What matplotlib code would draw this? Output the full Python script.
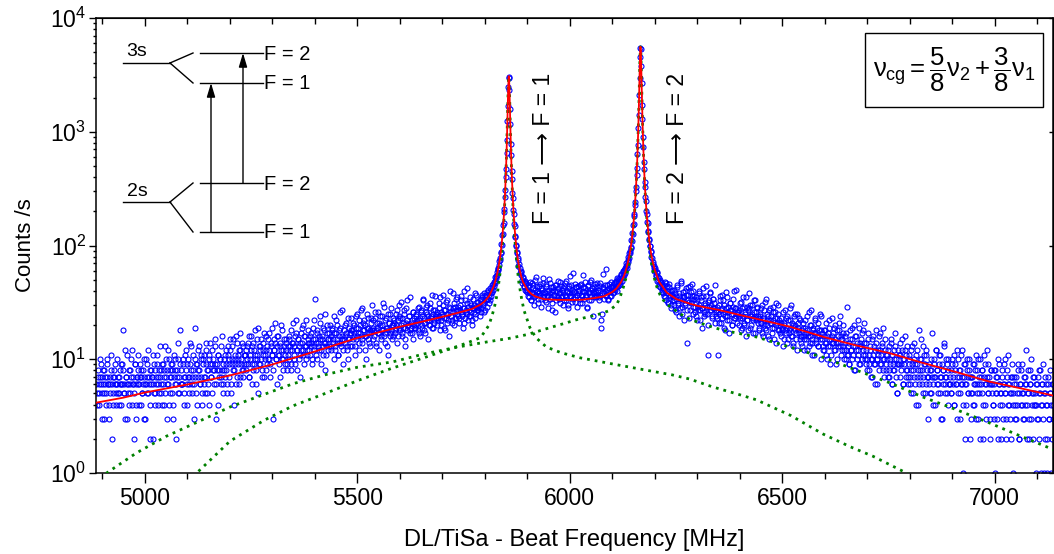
import numpy as np
import matplotlib
matplotlib.use('Agg')
import matplotlib.pyplot as plt
from matplotlib.lines import Line2D
from matplotlib.patches import Rectangle, FancyArrowPatch
from matplotlib.ticker import MultipleLocator, LogLocator, NullFormatter, NullLocator

plt.rcParams['font.family'] = ['Liberation Sans', 'DejaVu Sans']
plt.rcParams['mathtext.fontset'] = 'custom'
plt.rcParams['mathtext.rm'] = 'Liberation Sans'
plt.rcParams['mathtext.it'] = 'Liberation Sans'
plt.rcParams['mathtext.bf'] = 'Liberation Sans:bold'

# measured counts, read off the plot
# wings: two interleaved sweeps (even / odd MHz), peaks in 1 MHz steps
left_start = 4886
counts_left = [
    6, 4, 7, 5, 10, 6, 3, 7, 8, 5, 6, 4, 9, 7, 6, 3, 5, 11, 6, 7, 4, 8, 6, 5, 10,
    5, 7, 4, 8, 6, 9, 18, 5, 6, 3, 7, 11, 6, 4, 8, 5, 7, 12, 6, 2, 9, 6, 4, 7, 8,
    6, 9, 4, 7, 5, 8, 3, 6, 10, 7, 5, 12, 6, 4, 8, 7, 2, 6, 9, 5, 7, 11, 4, 6, 8,
    7, 5, 9, 6, 4, 8, 13, 7, 3, 6, 10, 8, 5, 7, 9, 4, 11, 6, 8, 2, 7, 10, 5, 18, 6,
    8, 6, 10, 5, 7, 12, 4, 9, 7, 6, 14, 8, 5, 7, 11, 6, 19, 9, 4, 8, 7, 13, 6, 10, 5,
    9, 6, 11, 7, 14, 5, 8, 10, 4, 9, 7, 12, 8, 6, 15, 9, 3, 8, 11, 7, 10, 6, 13, 8, 5,
    10, 7, 12, 8, 5, 11, 9, 15, 6, 10, 13, 8, 4, 9, 16, 7, 11, 10, 6, 12, 9, 14, 8, 7, 11,
    11, 8, 13, 9, 16, 7, 10, 12, 6, 14, 9, 18, 11, 8, 10, 5, 13, 12, 9, 15, 7, 11, 17, 10, 8,
    12, 9, 15, 10, 7, 13, 11, 19, 8, 12, 14, 10, 6, 16, 11, 9, 13, 20, 10, 12, 8, 15, 11, 14, 9,
    13, 10, 16, 12, 8, 14, 21, 11, 13, 9, 17, 12, 15, 10, 7, 14, 12, 19, 11, 16, 13, 10, 22, 12, 14,
    14, 11, 17, 13, 9, 15, 12, 34, 14, 18, 10, 13, 16, 24, 12, 15, 11, 19, 14, 8, 13, 20, 15, 12, 17,
    15, 12, 19, 14, 10, 17, 13, 22, 15, 11, 18, 14, 26, 13, 16, 9, 15, 20, 14, 17, 12, 23, 15, 13, 18,
    17, 13, 21, 16, 11, 19, 15, 25, 17, 12, 20, 16, 28, 14, 18, 22, 16, 10, 19, 15, 23, 17, 13, 21, 18,
    15, 22, 18, 26, 13, 19, 17, 21, 12, 24, 16, 20, 18, 29, 14, 17, 23, 19, 11, 21, 16, 25, 18, 15, 20,
    21, 17, 19, 25, 14, 22, 30, 18, 20, 16, 23, 19, 27, 13, 21, 18, 33, 20, 24, 17, 19, 22, 15, 26, 20,
    19, 24, 21, 28, 17, 22, 16, 26, 20, 34, 23, 18, 21, 29, 25, 15, 22, 20, 31, 24, 19, 27, 21, 36, 23,
    25, 20, 23, 31, 18, 26, 22, 24, 37, 19, 27, 23, 33, 21, 25, 16, 28, 24, 22, 38, 26, 20, 29, 23, 35,
    24, 29, 21, 27, 33, 25, 19, 28, 40, 23, 26, 31, 22, 27, 35, 24, 30, 20, 28, 26, 38, 23, 29, 32, 27,
    30, 24, 34, 28, 37, 31, 26, 36, 33, 29, 39, 34, 31, 40, 36, 43, 39, 46, 44, 49, 52, 55, 61, 63, 73,
]
left_b_start = 4887
counts_left_b = [
    5, 8, 6, 4, 7, 9, 5, 6, 3, 8, 7, 5, 10, 6, 4, 7, 6, 8, 2, 5, 7, 9, 6, 4, 6,
    7, 5, 6, 9, 4, 6, 8, 5, 12, 7, 3, 6, 5, 8, 6, 10, 4, 7, 6, 5, 9, 3, 7, 6, 11,
    4, 7, 8, 5, 6, 10, 7, 3, 6, 9, 5, 7, 8, 2, 6, 7, 11, 5, 4, 8, 6, 9, 7, 5, 13,
    8, 6, 4, 9, 7, 5, 10, 8, 6, 12, 4, 7, 9, 5, 8, 3, 7, 10, 6, 8, 14, 5, 7, 9, 6,
    6, 9, 7, 4, 11, 8, 6, 10, 5, 7, 9, 13, 6, 8, 3, 10, 7, 5, 9, 12, 8, 6, 11, 7, 4,
    10, 7, 5, 9, 12, 8, 6, 11, 14, 7, 9, 5, 10, 8, 13, 6, 9, 11, 4, 8, 10, 7, 16, 9, 6,
    8, 11, 9, 6, 13, 10, 7, 12, 5, 9, 15, 8, 11, 10, 6, 14, 9, 12, 7, 17, 10, 8, 13, 9, 11,
    9, 12, 10, 14, 7, 11, 16, 9, 13, 8, 12, 10, 6, 15, 11, 19, 9, 13, 10, 8, 14, 12, 7, 11, 16,
    13, 10, 12, 17, 9, 14, 11, 3, 15, 12, 21, 10, 13, 16, 11, 7, 14, 12, 18, 10, 13, 9, 15, 12, 8,
    11, 15, 13, 9, 18, 12, 14, 10, 16, 22, 12, 8, 15, 13, 11, 17, 14, 20, 12, 9, 16, 13, 11, 18, 15,
    12, 16, 14, 10, 19, 13, 22, 15, 11, 17, 14, 12, 21, 15, 9, 16, 13, 18, 25, 14, 11, 17, 15, 13, 20,
    16, 13, 18, 15, 24, 12, 17, 14, 20, 11, 16, 19, 14, 27, 15, 12, 18, 16, 21, 13, 15, 10, 19, 17, 23,
    18, 15, 20, 17, 13, 24, 16, 19, 22, 14, 17, 27, 15, 21, 18, 12, 20, 16, 25, 19, 14, 18, 23, 17, 30,
    19, 16, 23, 18, 14, 21, 26, 17, 20, 15, 24, 18, 31, 16, 22, 19, 13, 25, 18, 21, 17, 28, 20, 16, 23,
    22, 18, 20, 27, 16, 24, 19, 23, 32, 17, 21, 25, 19, 15, 28, 22, 20, 24, 18, 35, 21, 17, 26, 23, 19,
    20, 25, 22, 18, 29, 23, 27, 19, 24, 33, 21, 17, 26, 22, 30, 24, 20, 28, 23, 37, 19, 25, 22, 27, 24,
    26, 22, 28, 24, 35, 20, 25, 30, 23, 27, 18, 32, 25, 22, 29, 26, 40, 24, 21, 28, 31, 23, 27, 34, 25,
    27, 23, 30, 26, 36, 24, 28, 21, 33, 27, 25, 42, 29, 24, 31, 26, 22, 34, 28, 30, 25, 37, 27, 32, 29,
    28, 33, 26, 35, 30, 38, 32, 27, 37, 34, 41, 35, 33, 42, 38, 45, 41, 48, 47, 53, 54, 58, 62, 68,
]
peak1_start = 5835
counts_peak1 = [
    78, 75, 88, 86, 103, 101, 124, 126, 152, 158, 196, 211, 268, 305, 398, 472,
    655, 842, 1240, 1690, 2490, 2950, 3010, 2340, 1570, 1160, 788, 621, 452, 381,
    292, 259, 206, 190, 155, 148, 122, 119, 101, 99, 86, 87, 75, 77, 66, 69,
]
mid_start = 5882
counts_mid = [
    64, 55, 58, 47, 52, 43, 49, 40, 46,
    41, 36, 45, 38, 33, 47, 39, 42, 35, 50, 37, 44, 31, 40, 38, 46, 34, 41, 52, 36,
    39, 33, 44, 36, 28, 41, 38, 47, 35, 31, 43, 37, 40, 26, 45, 36, 42, 34, 48, 38,
    35, 41, 30, 44, 37, 33, 49, 39, 28, 42, 36, 45, 38, 32, 57, 40, 35, 43, 29, 37,
    44, 38, 31, 46, 36, 40, 55, 34, 42, 37, 29, 45, 39, 33, 48, 36, 41, 24, 43, 38,
    40, 35, 47, 39, 33, 44, 37, 19, 25, 42, 38, 45, 36, 62, 41, 34, 46, 39, 43, 36,
    44, 38, 47, 41, 49, 40, 52, 44, 50, 46, 55, 49, 58, 53, 61, 57, 66, 63, 74, 72, 86,
]
mid_b_start = 5883
counts_mid_b = [
    57, 60, 50, 53, 44, 48, 41, 47, 39,
    43, 35, 40, 48, 33, 38, 45, 30, 41, 36, 53, 39, 34, 44, 37, 29, 42, 38, 47, 35,
    38, 46, 32, 40, 36, 51, 34, 43, 39, 27, 41, 37, 45, 33, 40, 49, 35, 38, 31, 44,
    36, 42, 39, 33, 47, 35, 40, 30, 44, 38, 54, 36, 41, 34, 39, 46, 32, 43, 37, 40,
    41, 34, 45, 37, 31, 43, 39, 48, 35, 40, 28, 44, 38, 36, 50, 33, 42, 39, 35, 46,
    39, 44, 36, 41, 35, 47, 22, 38, 43, 56, 34, 40, 37, 45, 33, 39, 42, 36, 48, 41,
    43, 39, 46, 42, 48, 44, 51, 45, 53, 48, 56, 52, 60, 55, 64, 62, 70, 68, 79, 77,
]
peak2_start = 6141
counts_peak2 = [
    89, 86, 97, 95, 111, 109, 128, 127, 151, 154, 183, 189, 229, 243, 301, 329,
    419, 478, 633, 762, 1071, 1392, 2110, 2960, 4510, 5420, 5290, 3750, 2660, 1720,
    1290, 902, 731, 544, 467, 364, 327, 265, 244, 203, 191, 162, 157, 134, 131, 114,
    112, 99, 100, 88, 89, 79,
]
right_start = 6194
counts_right = [
    78, 69, 64, 61, 55, 58, 49, 53, 44, 50, 47, 39, 45, 42, 36, 48, 33, 44, 40, 31, 46, 37, 28, 41, 35,
    33, 41, 27, 36, 45, 30, 24, 38, 34, 49, 29, 35, 22, 40, 31, 37, 14, 43, 32, 27, 39, 34, 46, 25, 36,
    26, 31, 35, 22, 29, 40, 27, 33, 19, 28, 36, 24, 30, 44, 25, 32, 11, 29, 38, 27, 23, 34, 28, 31, 21,
    27, 23, 11, 30, 25, 36, 21, 28, 33, 19, 26, 24, 39, 22, 29, 17, 27, 31, 25, 20, 34, 23, 28, 41, 24,
    21, 26, 24, 31, 18, 23, 28, 35, 20, 25, 16, 29, 22, 27, 38, 19, 24, 30, 22, 17, 26, 33, 23, 28, 21,
    23, 18, 25, 21, 30, 16, 22, 27, 19, 34, 20, 24, 15, 22, 28, 21, 17, 26, 19, 23, 31, 14, 21, 25, 18,
    20, 16, 23, 18, 13, 21, 27, 17, 19, 24, 15, 18, 22, 30, 16, 20, 14, 19, 25, 17, 12, 21, 18, 23, 15,
    14, 18, 21, 16, 12, 19, 15, 24, 17, 13, 16, 20, 27, 14, 18, 11, 17, 22, 15, 19, 13, 16, 25, 18, 10,
    15, 12, 18, 14, 21, 11, 16, 13, 19, 9, 15, 23, 14, 17, 12, 20, 14, 10, 16, 13, 18, 24, 15, 12, 17,
    13, 10, 16, 12, 29, 11, 14, 9, 18, 12, 15, 11, 20, 8, 13, 16, 10, 12, 19, 14, 9, 13, 17, 11, 21,
    11, 9, 14, 10, 17, 8, 12, 10, 15, 7, 11, 13, 9, 18, 10, 6, 12, 16, 9, 11, 14, 8, 19, 10, 12,
    9, 11, 7, 13, 8, 10, 15, 6, 9, 12, 8, 17, 10, 5, 9, 11, 7, 14, 9, 12, 6, 10, 16, 8, 11,
    8, 6, 10, 7, 12, 5, 9, 8, 14, 6, 11, 7, 9, 4, 18, 8, 10, 6, 13, 7, 9, 5, 11, 8, 7,
    7, 9, 5, 8, 17, 6, 10, 7, 4, 12, 8, 6, 9, 5, 11, 7, 3, 8, 13, 6, 7, 10, 5, 8, 6,
    6, 8, 5, 10, 7, 4, 9, 6, 12, 7, 5, 8, 3, 11, 6, 7, 1, 9, 6, 4, 10, 7, 5, 8, 2,
    7, 5, 9, 6, 4, 8, 11, 6, 3, 7, 5, 10, 6, 8, 2, 7, 4, 9, 6, 12, 5, 7, 3, 8, 6,
    6, 4, 8, 1, 5, 7, 3, 10, 6, 5, 2, 8, 4, 6, 9, 5, 3, 7, 6, 11, 4, 5, 2, 7, 1,
    5, 7, 3, 6, 4, 9, 5, 2, 6, 8, 4, 5, 3, 7, 6, 12, 4, 5, 2, 8, 6, 3, 5, 7, 4,
    5, 1, 4, 6, 3, 8, 5, 1, 6, 4, 9, 5, 2, 6, 1, 4, 7, 3, 5, 1, 6, 4, 3,
]
right_b_start = 6195
counts_right_b = [
    72, 66, 60, 63, 54, 57, 50, 46, 52, 43, 48, 41, 38, 45, 40, 35, 47, 38, 32, 43, 36, 30, 40, 37, 33,
    30, 38, 34, 26, 43, 31, 36, 28, 47, 33, 25, 39, 35, 30, 42, 27, 37, 33, 23, 44, 31, 36, 29, 40, 34,
    29, 24, 33, 27, 38, 30, 22, 35, 28, 42, 26, 31, 25, 36, 29, 20, 33, 27, 39, 30, 24, 34, 28, 45, 26,
    24, 29, 26, 21, 33, 27, 23, 37, 25, 30, 18, 28, 24, 35, 26, 22, 31, 27, 20, 29, 25, 40, 23, 28, 26,
    25, 20, 27, 23, 32, 19, 24, 29, 21, 26, 35, 22, 18, 28, 24, 30, 20, 25, 23, 33, 17, 26, 22, 29, 24,
    19, 24, 21, 28, 17, 23, 20, 32, 18, 25, 22, 16, 27, 21, 24, 19, 29, 22, 15, 26, 20, 23, 30, 18, 22,
    17, 21, 19, 26, 15, 20, 18, 23, 14, 22, 17, 28, 19, 16, 21, 13, 24, 18, 20, 15, 25, 19, 17, 22, 16,
    16, 13, 19, 15, 22, 17, 12, 18, 16, 26, 14, 20, 15, 11, 19, 17, 23, 14, 16, 21, 13, 18, 15, 24, 17,
    13, 16, 12, 18, 14, 10, 17, 15, 22, 13, 11, 16, 14, 19, 12, 15, 9, 18, 14, 21, 13, 16, 11, 15, 20,
    12, 14, 10, 17, 11, 13, 9, 15, 12, 19, 10, 13, 8, 16, 12, 14, 11, 22, 9, 13, 15, 10, 18, 12, 14,
    10, 12, 8, 15, 9, 11, 13, 7, 10, 16, 9, 12, 6, 14, 10, 11, 8, 17, 12, 9, 13, 10, 7, 15, 11,
    8, 10, 12, 7, 9, 14, 6, 11, 8, 10, 13, 7, 9, 5, 12, 9, 11, 8, 15, 6, 10, 9, 12, 7, 13,
    7, 9, 11, 6, 8, 13, 5, 10, 7, 9, 4, 12, 8, 6, 10, 7, 15, 8, 5, 11, 9, 6, 12, 7, 3,
    6, 8, 10, 5, 7, 4, 9, 7, 12, 6, 8, 5, 11, 7, 3, 9, 6, 8, 14, 5, 7, 9, 4, 10, 6,
    7, 5, 9, 6, 11, 4, 8, 6, 3, 10, 7, 5, 8, 6, 12, 4, 7, 9, 2, 6, 8, 5, 10, 7, 3,
    5, 7, 4, 9, 6, 3, 8, 5, 10, 6, 2, 7, 5, 8, 4, 11, 6, 3, 7, 9, 5, 6, 2, 8, 5,
    4, 6, 3, 8, 5, 7, 2, 6, 9, 4, 5, 7, 3, 6, 10, 5, 2, 8, 4, 6, 3, 7, 5, 9, 4,
    6, 4, 7, 3, 5, 8, 2, 6, 4, 9, 5, 3, 7, 4, 6, 2, 8, 5, 3, 6, 10, 4, 5, 2, 7,
    4, 6, 3, 7, 2, 5, 8, 4, 6, 3, 1, 5, 7, 4, 2, 6, 3, 8, 5, 4, 2, 6,
]

# fit curve (red)
fit_freq = [
    4885, 4950, 5000, 5100, 5200, 5300, 5400, 5500, 5600, 5650,
    5700, 5740, 5770, 5790, 5800, 5810, 5820, 5826, 5830, 5834,
    5837, 5840, 5842, 5844, 5846, 5848, 5849, 5850, 5851, 5852,
    5853, 5854, 5855, 5856, 5856.4, 5857, 5858, 5859, 5860, 5861,
    5862, 5863, 5864, 5866, 5868, 5870, 5872, 5875, 5878, 5882,
    5886, 5890, 5900, 5910, 5920, 5940, 5970, 6000, 6030, 6060,
    6080, 6100, 6110, 6120, 6126, 6130, 6134, 6138, 6141, 6144,
    6147, 6149, 6151, 6153, 6155, 6157, 6158, 6159, 6160, 6161,
    6162, 6163, 6164, 6165, 6166, 6166.3, 6167, 6168, 6169, 6170,
    6171, 6172, 6173, 6174, 6175, 6177, 6179, 6181, 6184, 6187,
    6191, 6195, 6200, 6210, 6228, 6250, 6280, 6300, 6353, 6400,
    6450, 6518, 6600, 6675, 6753, 6830, 6910, 6988, 7066, 7139,
]
fit_counts = [
    4.15, 4.6, 5.1, 6.0, 7.2, 9.0, 11.7, 15.4, 19.3, 21.3,
    23.6, 25.8, 27.7, 30.3, 32.4, 36, 43, 50.6, 58.7, 71,
    84, 107, 130, 164, 219, 313, 386, 488, 638, 863,
    1209, 1735, 2437, 3020, 3086, 2942, 2291, 1614, 1128, 810,
    604, 466, 370, 251, 184, 143, 116, 90, 74, 60.7,
    52.8, 47.7, 40.7, 37.3, 35.5, 33.7, 33.3, 33.2, 33.4, 34.6,
    35.7, 39, 42, 47.4, 52.6, 57.6, 64.7, 75, 85, 100,
    123, 145, 176, 221, 290, 406, 494, 614, 787, 1043,
    1436, 2059, 3043, 4408, 5512, 5591, 5186, 3832, 2597, 1773,
    1256, 927, 710, 560, 454, 318, 237, 186, 139, 110,
    86, 72, 61, 48, 38.6, 33.9, 31, 29.5, 27, 24.5,
    22.2, 19.3, 15.6, 13.2, 11.3, 9.3, 7.7, 6.35, 5.5, 4.78,
]

# F=1 -> F=1 component (green)
comp1_freq = [
    5060, 5122, 5200, 5280, 5349, 5430, 5506, 5580, 5663, 5720,
    5760, 5790, 5810, 5822, 5830, 5836, 5840, 5844, 5847, 5849,
    5851, 5853, 5854, 5855, 5856, 5856.4, 5857, 5858, 5859, 5860,
    5862, 5864, 5866, 5869, 5872, 5876, 5880, 5886, 5892, 5906,
    5920, 5945, 5980, 6024, 6100, 6181, 6240, 6282, 6337, 6390,
    6439, 6520, 6596, 6660, 6714, 6792, 6840,
]
comp1_counts = [
    0.6, 1.0, 1.9, 2.9, 3.9, 5.1, 6.6, 8.3, 10.5, 12.4,
    14.0, 15.5, 20, 28, 39, 58, 88, 146, 240, 367,
    619, 1190, 1716, 2418, 3001, 3067, 2923, 2272, 1595, 1109,
    585, 351, 232, 142, 97, 65, 47.5, 35, 27, 19,
    15.5, 12.8, 11.4, 10.3, 9.1, 8.0, 7.3, 6.7, 5.7, 5.0,
    4.4, 3.2, 2.2, 1.7, 1.4, 1.0, 0.75,
]

# F=2 -> F=2 component (green)
comp2_freq = [
    4860, 4910, 4980, 5050, 5114, 5200, 5280, 5349, 5430, 5500,
    5584, 5660, 5741, 5800, 5859, 5900, 5950, 5984, 6020, 6063,
    6090, 6110, 6118, 6126, 6134, 6141, 6145, 6149, 6152, 6155,
    6157, 6159, 6161, 6162, 6163, 6164, 6165, 6166, 6166.3, 6167,
    6168, 6169, 6170, 6171, 6173, 6175, 6177, 6180, 6183, 6187,
    6192, 6198, 6205, 6212, 6225, 6242, 6260, 6282, 6320, 6360,
    6400, 6439, 6518, 6596, 6675, 6753, 6831, 6910, 6988, 7066,
    7139,
]
comp2_counts = [
    0.8, 1.0, 1.5, 2.1, 2.7, 3.8, 4.9, 6.1, 7.4, 8.5,
    9.5, 11.2, 12.9, 14.1, 15.3, 16.5, 18.8, 20.5, 22.5, 24.5,
    26.5, 30, 35, 43, 55, 74, 96, 134, 185, 279,
    395, 603, 1032, 1425, 2048, 3032, 4397, 5501, 5580, 5175,
    3821, 2586, 1762, 1245, 699, 443, 307, 198, 141, 99,
    71, 53, 43, 37, 31, 28, 25, 22.5, 20, 18,
    16.8, 15.7, 12.8, 10.4, 8.0, 6.2, 4.65, 3.6, 2.75, 2.07,
    1.6,
]

# (start, step, counts) for every sweep segment
segments_data = [
    (left_start, 2, counts_left), (left_b_start, 2, counts_left_b),
    (peak1_start, 1, counts_peak1),
    (mid_start, 2, counts_mid), (mid_b_start, 2, counts_mid_b),
    (peak2_start, 1, counts_peak2),
    (right_start, 2, counts_right), (right_b_start, 2, counts_right_b),
]
freq = np.concatenate([s + st * np.arange(len(c)) for s, st, c in segments_data])
counts = np.concatenate([c for _, _, c in segments_data])

W, H = 1054, 554
fig = plt.figure(figsize=(W / 100, H / 100), dpi=100)
ax = fig.add_axes([96 / W, 1 - 473 / H, (1053 - 96) / W, (473 - 18) / H])

ax.plot(freq, counts, 'o', ms=3.6, mfc='none', mec='#0000ff', mew=0.8, zorder=2)
green_style = dict(color='#008000', lw=2.0, ls=(0, (1, 1.8)), zorder=3)
ax.plot(comp1_freq, comp1_counts, **green_style)
ax.plot(comp2_freq, comp2_counts, **green_style)
ax.plot(fit_freq, fit_counts, color='#ff0000', lw=1.3, zorder=4)

ax.set_yscale('log')
ax.set_ylim(1, 1e4)
ax.set_xlim(4885, 7137)

ax.xaxis.set_major_locator(MultipleLocator(500))
ax.xaxis.set_minor_locator(MultipleLocator(100))
ax.yaxis.set_major_locator(LogLocator(base=10, numticks=10))
ax.yaxis.set_minor_locator(LogLocator(base=10, subs=np.arange(2, 10), numticks=10))
ax.tick_params(axis='x', which='major', direction='out', length=7, width=1, labelsize=16.5, pad=3)
ax.tick_params(axis='x', which='minor', direction='out', length=4, width=1)
ax.tick_params(axis='y', which='major', direction='out', length=5, width=1, labelsize=16.5, pad=2)
ax.tick_params(axis='y', which='minor', direction='out', length=2.5, width=1)
for sp in ax.spines.values():
    sp.set_linewidth(1.1)

top = ax.secondary_xaxis('top')
top.xaxis.set_major_locator(MultipleLocator(500))
top.xaxis.set_minor_locator(MultipleLocator(100))
top.xaxis.set_major_formatter(NullFormatter())
top.tick_params(which='major', direction='in', length=5.5, width=1)
top.tick_params(which='minor', direction='in', length=4, width=1)

right = ax.secondary_yaxis('right')
right.yaxis.set_major_locator(LogLocator(base=10, numticks=10))
right.yaxis.set_minor_locator(NullLocator())
right.yaxis.set_major_formatter(NullFormatter())
right.tick_params(which='major', direction='in', length=3, width=1)

ax.set_xlabel('DL/TiSa - Beat Frequency [MHz]', fontsize=17, labelpad=14)
ax.set_ylabel('Counts /s', fontsize=16, labelpad=10)

# formula box
ax.add_patch(Rectangle((0.8036, 0.804), 0.1859, 0.163, transform=ax.transAxes,
                       fc='white', ec='black', lw=1, zorder=5))
ax.text(0.8966, 0.8855, r'$\nu_{\mathrm{cg}} = \dfrac{5}{8}\nu_2 + \dfrac{3}{8}\nu_1$',
        transform=ax.transAxes, ha='center', va='center', fontsize=18.5, zorder=6)

# transition labels
ax.text(543 / W, 1 - 148 / H, 'F = 1 \u27f6 F = 1', transform=fig.transFigure,
        rotation=90, ha='center', va='center', fontsize=16.5)
ax.text(677 / W, 1 - 148 / H, 'F = 2 \u27f6 F = 2', transform=fig.transFigure,
        rotation=90, ha='center', va='center', fontsize=16.5)


# level scheme (figure pixel positions)
def fxy(px, py):
    return px / W, 1 - py / H


segments = [
    ((123, 63), (170, 63)), ((170, 63), (193, 53)), ((170, 63), (193, 83)),
    ((200, 53), (263, 53)), ((200, 83), (263, 83)),
    ((123, 202), (170, 202)), ((170, 202), (193, 183)), ((170, 202), (193, 232)),
    ((200, 183), (263, 183)), ((200, 232), (263, 232)),
]
for a, b in segments:
    (x1, y1), (x2, y2) = fxy(*a), fxy(*b)
    fig.add_artist(Line2D([x1, x2], [y1, y2], color='black', lw=1))

for a, b in [((211, 232), (211, 83)), ((243, 183), (243, 53))]:
    fig.add_artist(FancyArrowPatch(fxy(*a), fxy(*b), transform=fig.transFigure,
                                   arrowstyle='-|>,head_length=0.6,head_width=0.18',
                                   mutation_scale=14, lw=1, color='black',
                                   shrinkA=0, shrinkB=0))

for label, px, py in [('3s', 137, 52), ('2s', 137, 191)]:
    fig.text(*fxy(px, py), label, ha='center', va='center', fontsize=14)
for label, py in [('F = 2', 54), ('F = 1', 84), ('F = 2', 184), ('F = 1', 233)]:
    fig.text(*fxy(264, py), label, ha='left', va='center', fontsize=14.5)

fig.savefig('out.png', dpi=100)
